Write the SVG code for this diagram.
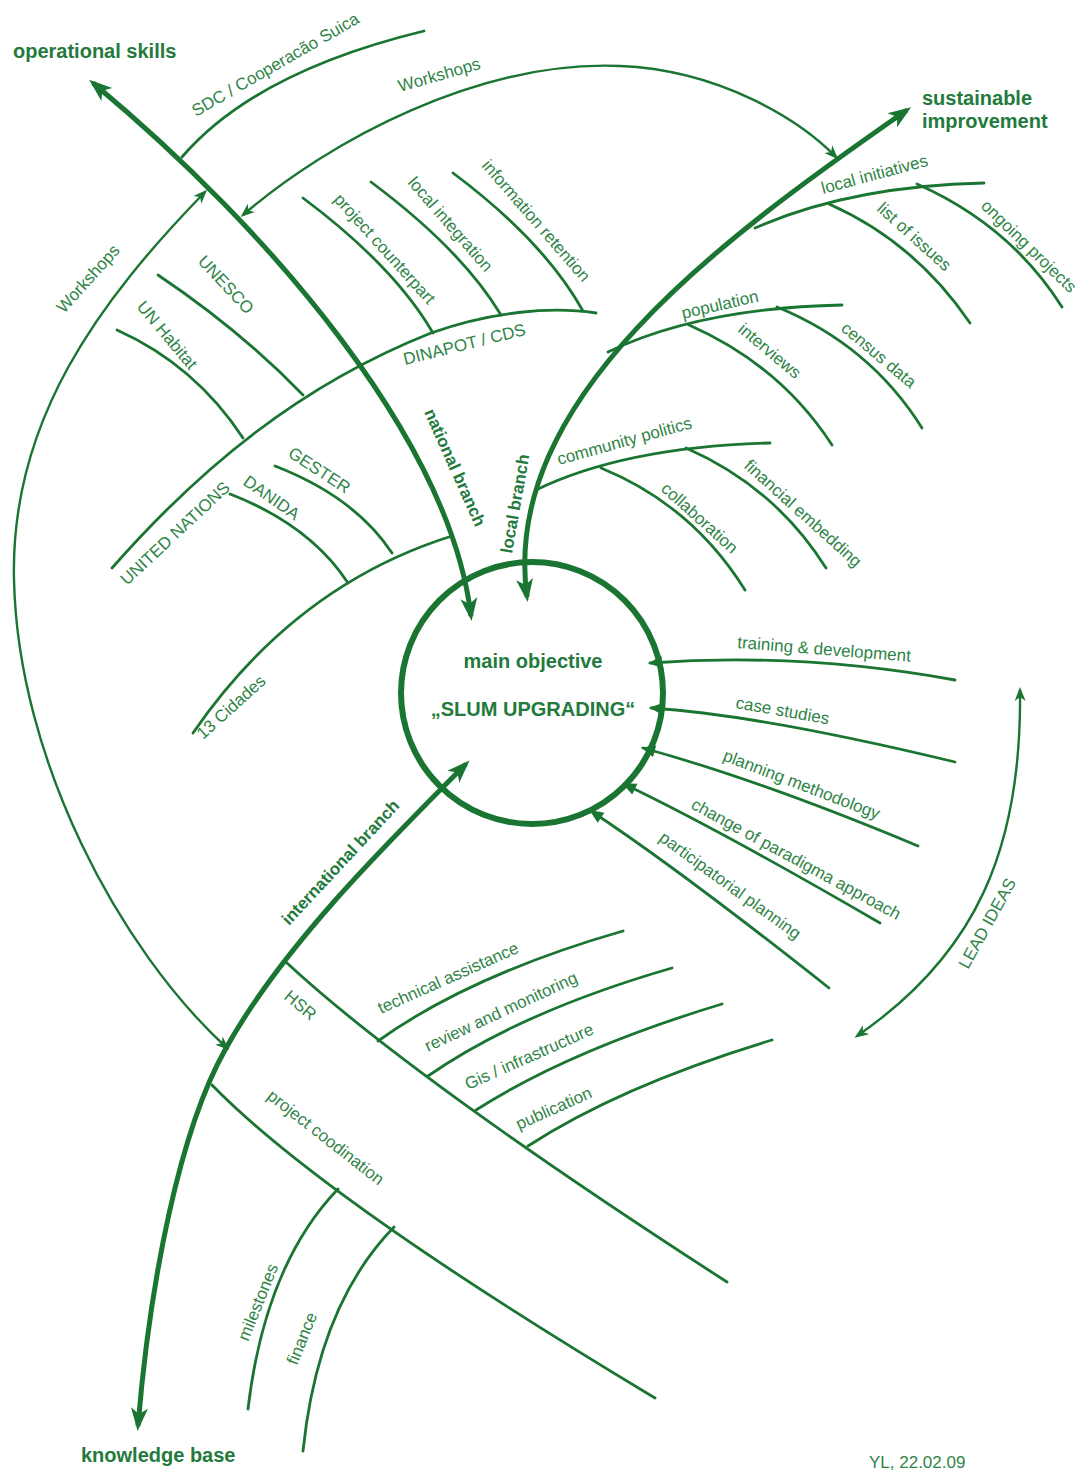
<svg xmlns="http://www.w3.org/2000/svg" width="1083" height="1473" viewBox="0 0 1083 1473">
<style>
  .ln{fill:none;stroke:#1b7532;stroke-width:2.8;stroke-linecap:round}
  .main{fill:none;stroke:#1b7532;stroke-width:5}
  .arc{fill:none;stroke:#1b7532;stroke-width:2.4}
  .lb{font-family:"Liberation Sans",Arial,sans-serif;font-size:17px;fill:#2f8447}
  .bd{font-family:"Liberation Sans",Arial,sans-serif;font-weight:bold;fill:#237a3c}
  .b17{font-size:17px}
  .b20{font-size:20px}
</style>
<defs>
  <marker id="big" markerUnits="userSpaceOnUse" viewBox="-20 -10 26 20" markerWidth="26" markerHeight="20" refX="0" refY="0" orient="auto-start-reverse">
    <path d="M5,0 L-18,-8.5 L-12,0 L-18,8.5 Z" fill="#1b7532"/>
  </marker>
  <marker id="sm" markerUnits="userSpaceOnUse" viewBox="-14 -7 18 14" markerWidth="18" markerHeight="14" refX="0" refY="0" orient="auto-start-reverse">
    <path d="M3,0 L-11,-5.5 L-7,0 L-11,5.5 Z" fill="#1b7532"/>
  </marker>
  <marker id="tri" markerUnits="userSpaceOnUse" viewBox="-14 -7 18 14" markerWidth="18" markerHeight="14" refX="0" refY="0" orient="auto">
    <path d="M2,0 L-12,-6 L-12,6 Z" fill="#1b7532"/>
  </marker>
</defs>
<rect width="1083" height="1473" fill="#ffffff"/>

<!-- connectors: main branches, feedback arcs and lead-idea arrows -->
<g id="connectors">
  <path id="national-branch" class="main" d="M93,83 C270,230 450,440 471,616" marker-start="url(#big)" marker-end="url(#big)"/>
  <path id="local-branch" class="main" d="M907,110 C720,240 500,400 527,597" marker-start="url(#big)" marker-end="url(#big)"/>
  <path id="international-branch" class="main" d="M466,764 C380,850 280,950 225,1050 C180,1130 150,1280 138,1426" marker-start="url(#big)" marker-end="url(#big)"/>
  <path id="workshops-top" class="arc" d="M243,215 C330,140 480,60 620,66 C720,70 800,120 836,157" marker-start="url(#sm)" marker-end="url(#sm)"/>
  <path id="workshops-left" class="arc" d="M205,192 C100,300 10,420 14,580 C18,760 120,950 227,1048" marker-start="url(#sm)" marker-end="url(#sm)"/>
  <path id="lead-ideas" class="arc" d="M1020,690 C1022,850 975,955 857,1036" marker-start="url(#sm)" marker-end="url(#sm)"/>
  <path class="ln" d="M955,680 Q800,652 650,663" marker-end="url(#tri)"/>
  <path class="ln" d="M955,762 Q760,715 651,708" marker-end="url(#tri)"/>
  <path class="ln" d="M918,846 Q760,780 643,748" marker-end="url(#tri)"/>
  <path class="ln" d="M880,923 Q720,830 624,784" marker-end="url(#tri)"/>
  <path class="ln" d="M829,988 Q680,870 591,811" marker-end="url(#tri)"/>
</g>

<!-- centre -->
<g id="main-objective">
  <circle cx="532" cy="693" r="131" fill="none" stroke="#1b7532" stroke-width="6"/>
  <text class="bd b20" x="533" y="668" text-anchor="middle">main objective</text>
  <text class="bd b20" x="533" y="716" text-anchor="middle">„SLUM UPGRADING“</text>
</g>

<!-- outcome labels -->
<g id="operational-skills"><text class="bd b20" x="13" y="58">operational skills</text></g>
<g id="sustainable-improvement"><text class="bd b20" x="922" y="105">sustainable</text><text class="bd b20" x="922" y="128">improvement</text></g>
<g id="knowledge-base"><text class="bd b20" x="81" y="1462">knowledge base</text></g>

<!-- branch labels -->
<g id="national-branch-label"><text class="bd b17" transform="translate(424,412) rotate(66)">national branch</text></g>
<g id="local-branch-label"><text class="bd b17" transform="translate(512,554) rotate(-80)">local branch</text></g>
<g id="international-branch-label"><text class="bd b17" transform="translate(289,926) rotate(-47)">international branch</text></g>

<!-- feedback labels -->
<g id="workshops-top-label"><text class="lb" transform="translate(400,92) rotate(-16)">Workshops</text></g>
<g id="workshops-left-label"><text class="lb" transform="translate(64,314) rotate(-48)">Workshops</text></g>
<g id="lead-ideas-label"><text class="lb" transform="translate(968,970) rotate(-61)">LEAD IDEAS</text></g>

<!-- national branch -->
<g id="sdc">
  <path class="ln" d="M182,157 Q255,72 424,31"/>
  <text class="lb" transform="translate(196,117) rotate(-30)">SDC / Cooperacão Suica</text>
</g>
<g id="united-nations">
  <path class="ln" d="M112,568 C200,468 300,385 431,333 C490,312 550,306 596,313"/>
  <text class="lb" transform="translate(127,586) rotate(-43)">UNITED NATIONS</text>
</g>
<g id="dinapot">
  <text class="lb" transform="translate(405,365) rotate(-14)">DINAPOT / CDS</text>
</g>
<g id="un-habitat">
  <path class="ln" d="M117,330 Q195,365 243,438"/>
  <text class="lb" transform="translate(136,307) rotate(50)">UN Habitat</text>
</g>
<g id="unesco">
  <path class="ln" d="M158,275 Q240,330 303,395"/>
  <text class="lb" transform="translate(197,262) rotate(47)">UNESCO</text>
</g>
<g id="project-counterpart">
  <path class="ln" d="M303,198 Q394,266 433,333"/>
  <text class="lb" transform="translate(333,200) rotate(48)">project counterpart</text>
</g>
<g id="local-integration">
  <path class="ln" d="M371,182 Q462,250 501,315"/>
  <text class="lb" transform="translate(407,183) rotate(49)">local integration</text>
</g>
<g id="information-retention">
  <path class="ln" d="M453,173 Q544,241 583,311"/>
  <text class="lb" transform="translate(481,166) rotate(49)">information retention</text>
</g>
<g id="cidades">
  <path class="ln" d="M193,733 Q295,585 452,536"/>
  <text class="lb" transform="translate(203,740) rotate(-42)">13 Cidades</text>
</g>
<g id="danida">
  <path class="ln" d="M230,494 Q310,525 348,583"/>
  <text class="lb" transform="translate(242,484) rotate(35)">DANIDA</text>
</g>
<g id="gester">
  <path class="ln" d="M275,466 Q355,497 392,553"/>
  <text class="lb" transform="translate(287,456) rotate(33)">GESTER</text>
</g>

<!-- local branch -->
<g id="local-initiatives">
  <path class="ln" d="M755,228 Q850,186 984,183"/>
  <text class="lb" transform="translate(823,194) rotate(-15)">local initiatives</text>
</g>
<g id="list-of-issues">
  <path class="ln" d="M829,204 Q915,242 970,323"/>
  <text class="lb" transform="translate(876,210) rotate(42)">list of issues</text>
</g>
<g id="ongoing-projects">
  <path class="ln" d="M917,184 Q1010,225 1062,307"/>
  <text class="lb" transform="translate(980,207) rotate(44)">ongoing projects</text>
</g>
<g id="population">
  <path class="ln" d="M608,352 Q700,308 842,305"/>
  <text class="lb" transform="translate(683,319) rotate(-13)">population</text>
</g>
<g id="interviews">
  <path class="ln" d="M689,325 Q780,365 832,445"/>
  <text class="lb" transform="translate(737,331) rotate(40)">interviews</text>
</g>
<g id="census-data">
  <path class="ln" d="M777,307 Q870,345 922,428"/>
  <text class="lb" transform="translate(840,330) rotate(40)">census data</text>
</g>
<g id="community-politics">
  <path class="ln" d="M536,490 Q625,447 770,443"/>
  <text class="lb" transform="translate(559,465) rotate(-15.5)">community politics</text>
</g>
<g id="collaboration">
  <path class="ln" d="M601,468 Q692,505 745,590"/>
  <text class="lb" transform="translate(660,490) rotate(42)">collaboration</text>
</g>
<g id="financial-embedding">
  <path class="ln" d="M686,448 Q775,487 826,568"/>
  <text class="lb" transform="translate(743,467) rotate(42)">financial embedding</text>
</g>

<!-- lead ideas -->
<g id="training"><text class="lb" transform="translate(737,648) rotate(4.5)">training &amp; development</text></g>
<g id="case-studies"><text class="lb" transform="translate(735,708) rotate(10)">case studies</text></g>
<g id="planning-methodology"><text class="lb" transform="translate(722,760) rotate(21)">planning methodology</text></g>
<g id="paradigma"><text class="lb" transform="translate(690,808) rotate(28.5)">change of paradigma approach</text></g>
<g id="participatorial"><text class="lb" transform="translate(658,840) rotate(36)">participatorial planning</text></g>

<!-- international branch -->
<g id="hsr">
  <path class="ln" d="M287,963 Q411,1078 727,1282"/>
  <text class="lb" transform="translate(283,998) rotate(40)">HSR</text>
</g>
<g id="technical-assistance">
  <path class="ln" d="M378,1041 Q470,975 623,931"/>
  <text class="lb" transform="translate(381,1014) rotate(-24)">technical assistance</text>
</g>
<g id="review-monitoring">
  <path class="ln" d="M428,1076 Q520,1012 672,968"/>
  <text class="lb" transform="translate(428,1052) rotate(-25)">review and monitoring</text>
</g>
<g id="gis">
  <path class="ln" d="M476,1110 Q570,1050 722,1004"/>
  <text class="lb" transform="translate(468,1090) rotate(-24)">Gis / infrastructure</text>
</g>
<g id="publication">
  <path class="ln" d="M528,1146 Q620,1086 772,1040"/>
  <text class="lb" transform="translate(519,1130) rotate(-24)">publication</text>
</g>
<g id="project-coodination">
  <path class="ln" d="M212,1085 Q323,1199 655,1398"/>
  <text class="lb" transform="translate(266,1098) rotate(38)">project coodination</text>
</g>
<g id="milestones">
  <path class="ln" d="M338,1189 Q265,1265 248,1409"/>
  <text class="lb" transform="translate(248,1342) rotate(-68)">milestones</text>
</g>
<g id="finance">
  <path class="ln" d="M394,1227 Q318,1305 303,1451"/>
  <text class="lb" transform="translate(297,1366) rotate(-68)">finance</text>
</g>

<g id="signature"><text class="lb" x="869" y="1468">YL, 22.02.09</text></g>
</svg>
